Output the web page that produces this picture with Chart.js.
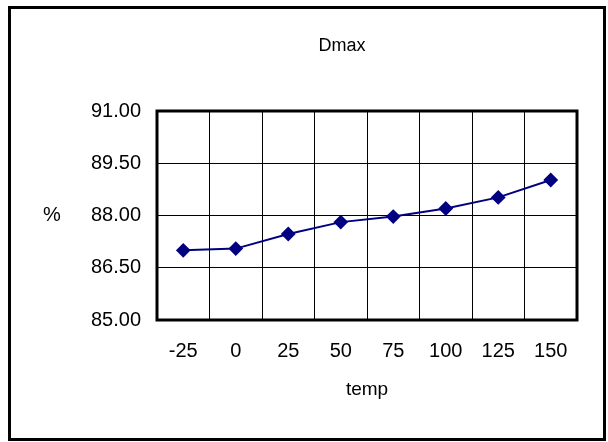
<!DOCTYPE html>
<html>
<head>
<meta charset="utf-8">
<script src="https://cdn.jsdelivr.net/npm/chart.js@4.4.1/dist/chart.umd.min.js"></script>
<style>
  body { margin: 0; background: #fff; }
  #wrap { position: relative; width: 608px; height: 442px; }
  #frame { position: absolute; left: 8px; top: 6px; width: 598px; height: 435px;
           border: 3px solid #000; box-sizing: border-box; pointer-events: none; }
</style>
</head>
<body>
<div id="wrap">
  <canvas id="myChart" width="608" height="442"></canvas>
  <div id="frame"></div>
</div>
<script>
const temps = ["-25", "0", "25", "50", "75", "100", "125", "150"];
const dmax = [87.0, 87.05, 87.47, 87.81, 87.97, 88.2, 88.52, 89.02];
const chartTitle = "Dmax";
const yTitle = "%";
const xTitle = "temp";

const font = "'Liberation Sans', Arial, sans-serif";

// plot frame + title + upright "%" label
const extras = {
  id: "extras",
  afterDraw(chart) {
    const ctx = chart.ctx;
    const a = chart.chartArea;
    ctx.save();
    ctx.strokeStyle = "#000";
    ctx.lineWidth = 3;
    ctx.strokeRect(a.left, a.top, a.right - a.left, a.bottom - a.top);
    ctx.fillStyle = "#000";
    ctx.textAlign = "center";
    ctx.textBaseline = "middle";
    ctx.font = "18px " + font;
    ctx.fillText(chartTitle, 342, 46);
    ctx.font = "20px " + font;
    ctx.fillText(yTitle, 52, 215);
    ctx.restore();
  }
};

const ctx = document.getElementById("myChart");
new Chart(ctx, {
  type: "line",
  data: {
    labels: temps,
    datasets: [{
      label: chartTitle,
      data: dmax,
      borderColor: "#000080",
      backgroundColor: "#000080",
      borderWidth: 2,
      pointStyle: "rectRot",
      pointRadius: 6,
      pointHoverRadius: 6,
      tension: 0,
    }],
  },
  options: {
    responsive: false,
    devicePixelRatio: 1,
    animation: false,
    layout: { padding: { left: 60, right: 31, top: 111, bottom: 30 } },
    plugins: { legend: { display: false }, title: { display: false }, tooltip: { enabled: false } },
    scales: {
      x: {
        offset: true,
        grid: { offset: true, color: "#000", lineWidth: 1, drawTicks: false },
        border: { display: false },
        ticks: { color: "#000", padding: 19, font: { family: font, size: 20 } },
        title: { display: true, text: xTitle, color: "#000", font: { family: font, size: 19 }, padding: { top: 0, bottom: 11 } },
        afterFit(scale) { scale.height = 442 - 30 - 320; },
      },
      y: {
        min: 85,
        max: 91,
        grid: { color: "#000", lineWidth: 1, drawTicks: false },
        border: { display: false },
        ticks: {
          stepSize: 1.5,
          color: "#000",
          padding: 16,
          font: { family: font, size: 20 },
          callback: (v) => v.toFixed(2),
        },
        afterFit(scale) { scale.width = 97; },
      },
    },
  },
  plugins: [extras],
});
</script>
</body>
</html>
